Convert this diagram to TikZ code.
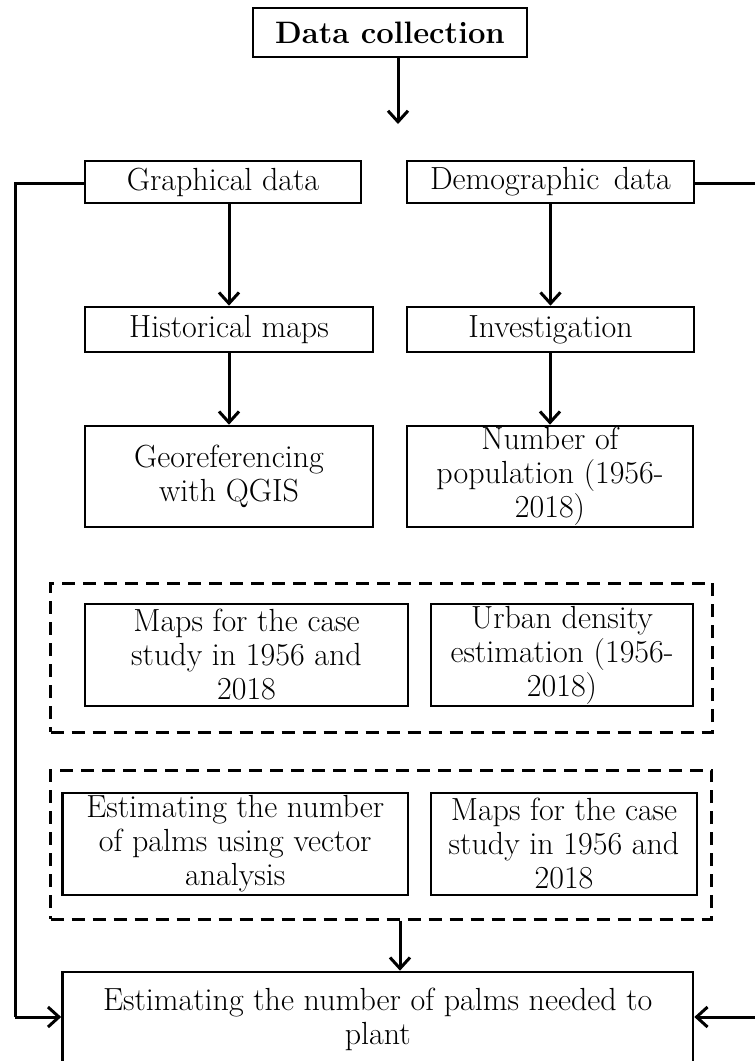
\documentclass[tikz,border=0pt]{standalone}
\usepackage{fontspec}
\usetikzlibrary{arrows.meta,calc}
\begin{document}
\begin{tikzpicture}[x=1pt,y=-1pt,
  box/.style={draw,line width=2.6pt,rectangle,inner sep=0pt,align=center,
    font=\fontsize{32}{34}\selectfont},
  grp/.style={draw,line width=3pt,dash pattern=on 13pt off 8pt},
  arr/.style={line width=3pt,-{Straight Barb[length=11pt,width=20pt,line width=3pt]}},
  link/.style={line width=3pt}]
\useasboundingbox (0,0) rectangle (755,1061);
\node[box,minimum width=274pt,minimum height=49pt,font=\fontsize{31}{34}\selectfont\bfseries] (title) at (390,32.5) {Data collection};
\coordinate (t1) at (398,57);
\coordinate (t2) at (398,124);
\draw[arr] (t1) -- (t2);

\node[box,minimum width=276pt,minimum height=42pt] (graph) at (223,182) {Graphical data};
\node[box,minimum width=287pt,minimum height=42pt] (demo) at (550.5,182) {Demographic\hspace{0.45em}data};
\node[box,minimum width=288pt,minimum height=45pt] (hist) at (229,329.5) {Historical maps};
\node[box,minimum width=287pt,minimum height=45pt] (inv) at (550.5,329.5) {Investigation};
\node[box,minimum width=288pt,minimum height=101pt] (geo) at (229,476.5) {Georeferencing\\with QGIS};
\node[box,minimum width=286pt,minimum height=101pt] (num) at (550,476.5) {Number of\\population (1956-\\2018)};

\node[grp,minimum width=662pt,minimum height=149pt] (g1) at (381.5,657.5) {};
\node[box,minimum width=323pt,minimum height=102pt] (maps1) at (246.5,655) {Maps for the case\\study in 1956 and\\2018};
\node[box,minimum width=262pt,minimum height=102pt] (urban) at (562,655) {Urban density\\estimation (1956-\\2018)};

\node[grp,minimum width=661pt,minimum height=149pt] (g2) at (381,844.5) {};
\node[box,minimum width=345.5pt,minimum height=102pt] (est) at (235.25,844) {Estimating the number\\of palms using vector\\analysis};
\node[box,minimum width=266pt,minimum height=102pt] (maps2) at (564,844) {Maps for the case\\study in 1956 and\\2018};

\node[box,minimum width=630.5pt,minimum height=94pt] (final) at (377.75,1019) {Estimating the number of palms needed to\\plant};

\draw[arr] (graph.south -| hist.north) -- (hist.north);
\draw[arr] (demo.south -| inv.north) -- (inv.north);
\draw[arr] (hist.south) -- (geo.north);
\draw[arr] (inv.south -| num.north) -- (num.north);
\draw[arr] (g2.south -| 400,0) -- (final.north -| 400,0);

\coordinate (lin) at (15,183);
\coordinate (lout) at (15,1017);
\coordinate (rin) at (762,183);
\coordinate (rout) at (762,1017);
\draw[link] (graph.west |- lin) -- (lin) -- (lout);
\draw[arr] (lout) -- (lout -| final.west);
\draw[link] (demo.east |- rin) -- (rin) -- (rout);
\draw[arr] (rout) -- (rout -| final.east);
\end{tikzpicture}
\end{document}
